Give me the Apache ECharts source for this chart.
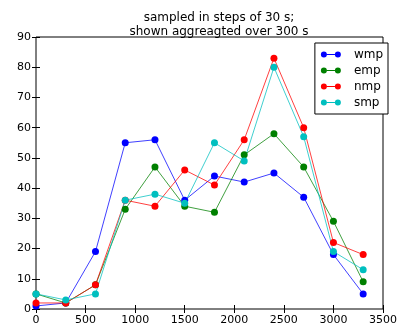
<!DOCTYPE html>
<html>
<head>
<meta charset="utf-8">
<script src="https://cdn.jsdelivr.net/npm/echarts@6/dist/echarts.min.js"></script>
<style>
  html, body { margin: 0; padding: 0; background: #fff; }
  #chart { width: 400px; height: 326px; }
</style>
</head>
<body>
<div id="chart"></div>
<script>
// time in seconds (aggregated over 300 s)
var times = [0, 300, 600, 900, 1200, 1500, 1800, 2100, 2400, 2700, 3000, 3300]
var wmp = [1, 2, 19, 55, 56, 36, 44, 42, 45, 37, 18, 5]
var emp = [5, 2, 8, 33, 47, 34, 32, 51, 58, 47, 29, 9]
var nmp = [2, 2, 8, 36, 34, 46, 41, 56, 83, 60, 22, 18]
var smp = [5, 3, 5, 36, 38, 35, 55, 49, 80, 57, 19, 13]
var seriesNames = ['wmp', 'emp', 'nmp', 'smp']
var seriesColors = ['#0000ff', '#008000', '#ff0000', '#00bfbf']
var titleLines = ['sampled in steps of 30 s;', 'shown aggreagted over 300 s']

var font = 'DejaVu Sans'
// dot - line - dot, like the matplotlib legend handle
var legendIcon = 'path://M0,3a3,3 0 1,0 6,0a3,3 0 1,0 -6,0zM6,2.5h8v1h-8zM14,3a3,3 0 1,0 6,0a3,3 0 1,0 -6,0z'

function pairs (ys) {
  return times.map(function (t, i) { return [t, ys[i]] })
}

function makeSeries (name, ys, color) {
  return {
    name: name,
    type: 'line',
    xAxisIndex: 0,
    yAxisIndex: 0,
    data: pairs(ys),
    symbol: 'circle',
    symbolSize: 7,
    showSymbol: true,
    lineStyle: { color: color, width: 1, opacity: 0.75 },
    itemStyle: { color: color },
    emphasis: { disabled: true },
    animation: false
  }
}

var tickStyle = { show: true, inside: true, length: 4, lineStyle: { color: '#000' } }

var chart = echarts.init(document.getElementById('chart'))
chart.setOption({
  animation: false,
  title: {
    text: titleLines.join('\n'),
    left: 214,
    top: 6,
    textAlign: 'center',
    textStyle: { fontFamily: font, fontSize: 12, fontWeight: 'normal', color: '#000', lineHeight: 14 }
  },
  grid: {
    left: 36,
    right: 8,
    top: 37,
    bottom: 13,
    show: true,
    borderColor: '#000',
    borderWidth: 1,
    backgroundColor: '#fff'
  },
  legend: {
    orient: 'vertical',
    right: 12,
    top: 43,
    data: seriesNames,
    icon: legendIcon,
    backgroundColor: '#fff',
    borderColor: '#000',
    borderWidth: 1,
    borderRadius: 0,
    padding: [5, 5, 5, 6],
    itemGap: 3,
    itemWidth: 20,
    itemHeight: 6,
    textStyle: { fontFamily: font, fontSize: 12, color: '#000', lineHeight: 13, padding: [0, 0, 0, 8] }
  },
  xAxis: [
    {
      type: 'value',
      min: 0,
      max: 3500,
      interval: 500,
      position: 'bottom',
      axisLine: { show: false },
      axisTick: tickStyle,
      splitLine: { show: false },
      axisLabel: { fontFamily: font, fontSize: 11, color: '#000', margin: 6, formatter: function (v) { return String(v) } }
    },
    {
      type: 'value',
      min: 0,
      max: 3500,
      interval: 500,
      position: 'top',
      axisLine: { show: false },
      axisTick: tickStyle,
      splitLine: { show: false },
      axisLabel: { show: false }
    }
  ],
  yAxis: [
    {
      type: 'value',
      min: 0,
      max: 90,
      interval: 10,
      position: 'left',
      axisLine: { show: false },
      axisTick: tickStyle,
      splitLine: { show: false },
      axisLabel: { fontFamily: font, fontSize: 11, color: '#000', margin: 5 }
    },
    {
      type: 'value',
      min: 0,
      max: 90,
      interval: 10,
      position: 'right',
      axisLine: { show: false },
      axisTick: tickStyle,
      splitLine: { show: false },
      axisLabel: { show: false }
    }
  ],
  series: [
    makeSeries(seriesNames[0], wmp, seriesColors[0]),
    makeSeries(seriesNames[1], emp, seriesColors[1]),
    makeSeries(seriesNames[2], nmp, seriesColors[2]),
    makeSeries(seriesNames[3], smp, seriesColors[3])
  ]
})
</script>
</body>
</html>
